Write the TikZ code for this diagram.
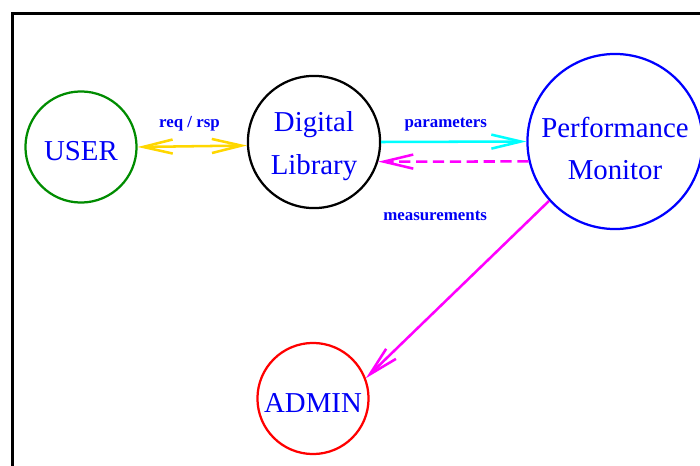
\documentclass[tikz,border=0pt]{standalone}
\usepackage{fontspec}
\setmainfont{Liberation Serif}
\usetikzlibrary{arrows.meta}
\usetikzlibrary{positioning}
\definecolor{usergreen}{RGB}{0,140,0}
\definecolor{reqgold}{RGB}{255,215,0}
\definecolor{txtblue}{RGB}{0,0,245}
\definecolor{parcyan}{RGB}{0,255,255}
\definecolor{meamagenta}{RGB}{255,0,255}
\newcommand{\dn}[2][3pt]{\raisebox{-#1}[\height][\depth]{#2}}
\tikzset{
semithick, % all lines semithick
>={Straight Barb[length=21pt,width=10pt]},
my node/.style={circle,inner sep=0pt,line width=1.6pt,text=txtblue,align=center,
  font=\fontsize{20.5}{30.5}\selectfont},
my agent/.style={draw,my node},
my label/.style={inner sep=0pt,text=txtblue,font=\fontsize{12}{14}\selectfont\bfseries},
my frame/.style={line width=2.2pt,line cap=rect},
conn/.style={line width=1.8pt},
}
\begin{document}
\begin{tikzpicture}[x=0.025cm,y=-0.025cm]
\useasboundingbox (0,0) rectangle (700,466);
\draw[my frame] (12.5,480) -- (12.5,13.5) -- (720,13.5);
\node[my agent,draw=usergreen,minimum size=79pt] (user)  at (81,147)    {\dn{USER}};
\node[my agent,draw=black,minimum size=94pt]     (dl)    at (314,142)   {\dn{Digital}\\\dn{Library}};
\node[my agent,draw=blue,minimum size=124.5pt]   (pm)    at (615,141.5) {\dn[5pt]{Performance}\\\dn[5pt]{Monitor}};
\node[my agent,draw=red,minimum size=79pt]       (admin) at (313,398.5) {\dn{ADMIN}};
\path[conn] (user.0)  edge[<->,reqgold]  node[my label,above=10pt,xshift=-2pt]{req / rsp} (dl.183.5)
            (dl.0)    edge[->,parcyan]   node[my label,above=7pt,xshift=-5.7pt]{parameters} (pm.180)
            (pm.193)  edge[->,meamagenta,dash pattern=on 8pt off 4pt]
                                         node[my label,below=34pt,xshift=-13pt]{measurements} (dl.343)
            (pm.222)  edge[->,meamagenta] (admin.21);
\end{tikzpicture}
\end{document}
